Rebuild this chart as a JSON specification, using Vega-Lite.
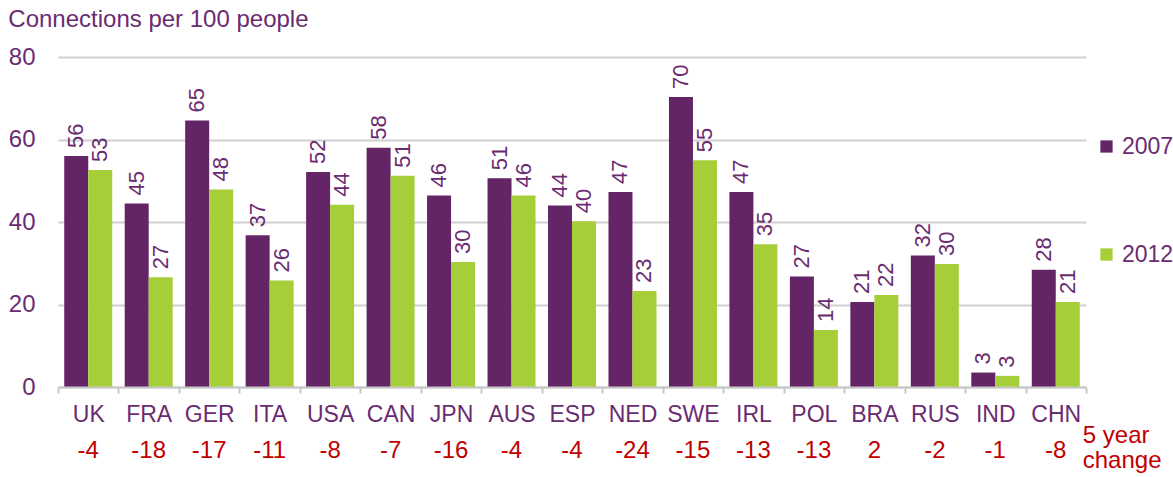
{
  "$schema": "https://vega.github.io/schema/vega-lite/v6.json",
  "width": 1028,
  "height": 330,
  "padding": {"left": 8, "top": 8, "right": 0, "bottom": 0},
  "autosize": {"type": "pad"},
  "background": "white",
  "title": {
    "text": "Connections per 100 people",
    "anchor": "start",
    "frame": "bounds",
    "font": "Liberation Sans",
    "fontSize": 24,
    "fontWeight": "normal",
    "color": "#6A2C70",
    "offset": 13
  },
  "data": {
    "values": [
      {"country": "UK", "year": "2007", "value": 56.0, "label": "56", "change": "-4"},
      {"country": "UK", "year": "2012", "value": 52.6, "label": "53", "change": "-4"},
      {"country": "FRA", "year": "2007", "value": 44.5, "label": "45", "change": "-18"},
      {"country": "FRA", "year": "2012", "value": 26.6, "label": "27", "change": "-18"},
      {"country": "GER", "year": "2007", "value": 64.6, "label": "65", "change": "-17"},
      {"country": "GER", "year": "2012", "value": 47.9, "label": "48", "change": "-17"},
      {"country": "ITA", "year": "2007", "value": 36.8, "label": "37", "change": "-11"},
      {"country": "ITA", "year": "2012", "value": 25.8, "label": "26", "change": "-11"},
      {"country": "USA", "year": "2007", "value": 52.1, "label": "52", "change": "-8"},
      {"country": "USA", "year": "2012", "value": 44.2, "label": "44", "change": "-8"},
      {"country": "CAN", "year": "2007", "value": 58.0, "label": "58", "change": "-7"},
      {"country": "CAN", "year": "2012", "value": 51.2, "label": "51", "change": "-7"},
      {"country": "JPN", "year": "2007", "value": 46.4, "label": "46", "change": "-16"},
      {"country": "JPN", "year": "2012", "value": 30.3, "label": "30", "change": "-16"},
      {"country": "AUS", "year": "2007", "value": 50.6, "label": "51", "change": "-4"},
      {"country": "AUS", "year": "2012", "value": 46.4, "label": "46", "change": "-4"},
      {"country": "ESP", "year": "2007", "value": 44.0, "label": "44", "change": "-4"},
      {"country": "ESP", "year": "2012", "value": 40.2, "label": "40", "change": "-4"},
      {"country": "NED", "year": "2007", "value": 47.3, "label": "47", "change": "-24"},
      {"country": "NED", "year": "2012", "value": 23.3, "label": "23", "change": "-24"},
      {"country": "SWE", "year": "2007", "value": 70.3, "label": "70", "change": "-15"},
      {"country": "SWE", "year": "2012", "value": 55.0, "label": "55", "change": "-15"},
      {"country": "IRL", "year": "2007", "value": 47.3, "label": "47", "change": "-13"},
      {"country": "IRL", "year": "2012", "value": 34.6, "label": "35", "change": "-13"},
      {"country": "POL", "year": "2007", "value": 26.8, "label": "27", "change": "-13"},
      {"country": "POL", "year": "2012", "value": 13.8, "label": "14", "change": "-13"},
      {"country": "BRA", "year": "2007", "value": 20.6, "label": "21", "change": "2"},
      {"country": "BRA", "year": "2012", "value": 22.3, "label": "22", "change": "2"},
      {"country": "RUS", "year": "2007", "value": 31.9, "label": "32", "change": "-2"},
      {"country": "RUS", "year": "2012", "value": 29.8, "label": "30", "change": "-2"},
      {"country": "IND", "year": "2007", "value": 3.5, "label": "3", "change": "-1"},
      {"country": "IND", "year": "2012", "value": 2.7, "label": "3", "change": "-1"},
      {"country": "CHN", "year": "2007", "value": 28.4, "label": "28", "change": "-8"},
      {"country": "CHN", "year": "2012", "value": 20.6, "label": "21", "change": "-8"}
    ]
  },
  "encoding": {
    "x": {
      "field": "country",
      "type": "nominal",
      "sort": null,
      "scale": {"paddingInner": 0, "paddingOuter": 0},
      "axis": {
        "title": null,
        "labelAngle": 0,
        "labelFont": "Liberation Sans",
        "labelFontSize": 23,
        "labelColor": "#6A2C70",
        "labelPadding": 10,
        "tickBand": "extent",
        "tickSize": 6,
        "tickColor": "#C8C8C8",
        "tickWidth": 2,
        "domainColor": "#C8C8C8",
        "domainWidth": 2,
        "grid": false,
        "zindex": 1
      }
    },
    "y": {
      "field": "value",
      "type": "quantitative",
      "scale": {"domain": [0, 80], "nice": false},
      "axis": {
        "title": null,
        "values": [0, 20, 40, 60, 80],
        "domain": false,
        "ticks": false,
        "labelFont": "Liberation Sans",
        "labelFontSize": 24,
        "labelColor": "#6A2C70",
        "labelPadding": 23,
        "grid": true,
        "gridColor": "#D0D0D0",
        "gridWidth": 2
      }
    }
  },
  "layer": [
    {
      "mark": {"type": "bar"},
      "encoding": {
        "xOffset": {"field": "year", "type": "nominal", "scale": {"paddingInner": 0, "paddingOuter": 0.26}},
        "color": {
          "field": "year",
          "type": "nominal",
          "scale": {"domain": ["2007", "2012"], "range": ["#632566", "#A6CE39"]},
          "legend": {
            "orient": "none",
            "legendX": 1037,
            "legendY": 78,
            "title": null,
            "padding": 0,
            "rowPadding": 84,
            "symbolType": "square",
            "symbolSize": 150,
            "symbolStrokeWidth": 0,
            "labelFont": "Liberation Sans",
            "labelFontSize": 23,
            "labelColor": "#6A2C70",
            "labelOffset": 4
          }
        }
      }
    },
    {
      "mark": {
        "type": "text",
        "angle": 270,
        "align": "left",
        "baseline": "middle",
        "dx": 8,
        "font": "Liberation Sans",
        "fontSize": 22,
        "color": "#6A2C70"
      },
      "encoding": {
        "xOffset": {"field": "year", "type": "nominal", "scale": {"paddingInner": 0, "paddingOuter": 0.26}},
        "text": {"field": "label"}
      }
    },
    {
      "transform": [{"filter": "datum.year === '2007'"}],
      "mark": {
        "type": "text",
        "align": "center",
        "baseline": "alphabetic",
        "dy": 71,
        "font": "Liberation Sans",
        "fontSize": 24,
        "color": "#C00000"
      },
      "encoding": {
        "y": {"datum": 0},
        "text": {"field": "change"}
      }
    },
    {
      "transform": [{"filter": "datum.year === '2007' && datum.country === 'CHN'"}],
      "mark": {
        "type": "text",
        "align": "left",
        "baseline": "alphabetic",
        "dx": 27,
        "dy": 56,
        "lineHeight": 25,
        "font": "Liberation Sans",
        "fontSize": 24,
        "color": "#C00000"
      },
      "encoding": {
        "y": {"datum": 0},
        "text": {"value": ["5 year", "change"]}
      }
    }
  ],
  "config": {
    "view": {"stroke": null},
    "font": "Liberation Sans"
  }
}
